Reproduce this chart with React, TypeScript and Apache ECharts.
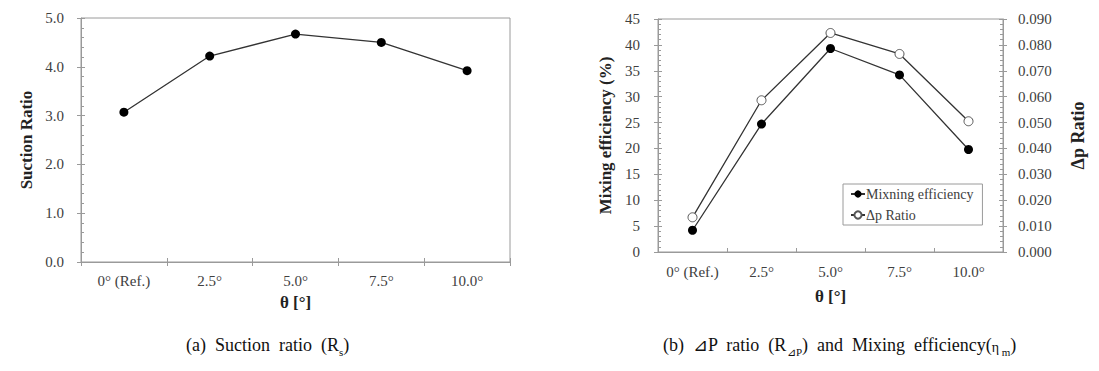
import React, { useEffect, useRef } from "react";
import * as echarts from "echarts";

const categories = ["0° (Ref.)", "2.5°", "5.0°", "7.5°", "10.0°"];
const suctionRatio = [3.07, 4.22, 4.67, 4.5, 3.92];
const mixingEfficiency = [4.2, 24.7, 39.3, 34.2, 19.8];
const dpRatio = [0.0134, 0.0586, 0.0846, 0.0765, 0.0505];
const seriesNames = ["Mixning efficiency", "Δp Ratio"];

const SERIF = "'Liberation Serif', 'Times New Roman', serif";
const AXIS_GRAY = "#9a9a9a";
const LABEL_COLOR = "#404040";

export default function App() {
  const ref = useRef<HTMLDivElement>(null);

  useEffect(() => {
    document.body.style.margin = "0";
    if (!ref.current) return;
    const chart = echarts.init(ref.current, null, { renderer: "svg" });

    const tickStyle = { color: AXIS_GRAY, width: 1 };
    const baseLabel = { color: LABEL_COLOR, fontFamily: SERIF, fontSize: 15 };
    const nameStyle = { color: "#222", fontFamily: SERIF, fontWeight: "bold" as const };

    const catAxis = (gridIndex: number, opts: any) => ({
      type: "category",
      gridIndex,
      position: "bottom",
      data: categories,
      boundaryGap: true,
      axisLine: { show: true, lineStyle: { color: AXIS_GRAY } },
      splitLine: { show: false },
      ...opts,
    });

    const option: any = {
      animation: false,
      grid: [
        { left: 81, top: 18, width: 429, height: 244, show: true, borderColor: AXIS_GRAY, borderWidth: 1 },
        { left: 658, top: 19, width: 345, height: 233, show: true, borderColor: AXIS_GRAY, borderWidth: 1 },
      ],
      xAxis: [
        catAxis(0, {
          axisTick: { show: true, inside: false, length: 4, lineStyle: tickStyle },
          axisLabel: { ...baseLabel, margin: 11 },
          name: "θ [°]",
          nameLocation: "middle",
          nameGap: 32,
          nameTextStyle: { ...nameStyle, fontSize: 17 },
        }),
        catAxis(0, {
          axisLine: { show: false },
          axisTick: { show: true, inside: true, length: 4, lineStyle: tickStyle },
          axisLabel: { show: false },
        }),
        catAxis(1, {
          axisTick: { show: true, inside: true, length: 4, lineStyle: tickStyle },
          axisLabel: { ...baseLabel, margin: 12 },
          name: "θ [°]",
          nameLocation: "middle",
          nameGap: 36,
          nameTextStyle: { ...nameStyle, fontSize: 17 },
        }),
      ],
      yAxis: [
        {
          type: "value",
          gridIndex: 0,
          position: "left",
          min: 0,
          max: 5,
          interval: 1,
          axisLine: { show: true, lineStyle: { color: AXIS_GRAY } },
          axisTick: { show: true, inside: true, length: 4, lineStyle: tickStyle },
          minorTick: { show: true, splitNumber: 5, length: 3, lineStyle: tickStyle },
          splitLine: { show: false },
          axisLabel: { ...baseLabel, margin: 17, formatter: (v: number) => v.toFixed(1) },
          name: "Suction Ratio",
          nameLocation: "middle",
          nameRotate: 90,
          nameGap: 46,
          nameTextStyle: { ...nameStyle, fontSize: 17 },
        },
        {
          type: "value",
          gridIndex: 0,
          position: "left",
          min: 0,
          max: 5,
          interval: 1,
          axisLine: { show: false },
          axisTick: { show: true, inside: false, length: 4, lineStyle: tickStyle },
          splitLine: { show: false },
          axisLabel: { show: false },
        },
        {
          type: "value",
          gridIndex: 1,
          position: "left",
          min: 0,
          max: 45,
          interval: 5,
          axisLine: { show: true, lineStyle: { color: AXIS_GRAY } },
          axisTick: { show: true, inside: true, length: 4, lineStyle: tickStyle },
          minorTick: { show: true, splitNumber: 5, length: 3, lineStyle: tickStyle },
          splitLine: { show: false },
          axisLabel: { ...baseLabel, margin: 18 },
          name: "Mixing efficiency (%)",
          nameLocation: "middle",
          nameRotate: 90,
          nameGap: 44,
          nameTextStyle: { ...nameStyle, fontSize: 17 },
        },
        {
          type: "value",
          gridIndex: 1,
          position: "left",
          min: 0,
          max: 45,
          interval: 5,
          axisLine: { show: false },
          axisTick: { show: true, inside: false, length: 4, lineStyle: tickStyle },
          splitLine: { show: false },
          axisLabel: { show: false },
        },
        {
          type: "value",
          gridIndex: 1,
          position: "right",
          min: 0,
          max: 0.09,
          interval: 0.01,
          axisLine: { show: true, lineStyle: { color: AXIS_GRAY } },
          axisTick: { show: true, inside: true, length: 4, lineStyle: tickStyle },
          minorTick: { show: true, splitNumber: 5, length: 3, lineStyle: tickStyle },
          splitLine: { show: false },
          axisLabel: { ...baseLabel, margin: 15, formatter: (v: number) => v.toFixed(3) },
          name: "Δp Ratio",
          nameLocation: "middle",
          nameRotate: 90,
          nameGap: 66,
          nameTextStyle: { ...nameStyle, fontSize: 18 },
        },
        {
          type: "value",
          gridIndex: 1,
          position: "right",
          min: 0,
          max: 0.09,
          interval: 0.01,
          axisLine: { show: false },
          axisTick: { show: true, inside: false, length: 4, lineStyle: tickStyle },
          splitLine: { show: false },
          axisLabel: { show: false },
        },
      ],
      legend: {
        left: 843,
        top: 184,
        orient: "vertical",
        data: seriesNames,
        itemWidth: 14,
        itemHeight: 9,
        itemGap: 7,
        padding: [3, 9, 3, 7],
        borderColor: AXIS_GRAY,
        borderWidth: 1,
        backgroundColor: "#fff",
        textStyle: { color: LABEL_COLOR, fontFamily: SERIF, fontSize: 14, padding: [0, 0, 0, -4] },
      },
      series: [
        {
          type: "line",
          name: "Suction Ratio",
          xAxisIndex: 0,
          yAxisIndex: 0,
          data: suctionRatio,
          symbol: "circle",
          symbolSize: 9,
          lineStyle: { color: "#333", width: 1.3 },
          itemStyle: { color: "#000" },
        },
        {
          type: "line",
          name: seriesNames[0],
          xAxisIndex: 2,
          yAxisIndex: 2,
          data: mixingEfficiency,
          symbol: "circle",
          symbolSize: 9,
          lineStyle: { color: "#333", width: 1.3 },
          itemStyle: { color: "#000" },
          z: 3,
        },
        {
          type: "line",
          name: seriesNames[1],
          xAxisIndex: 2,
          yAxisIndex: 4,
          data: dpRatio,
          symbol: "circle",
          symbolSize: 9,
          lineStyle: { color: "#333", width: 1.3 },
          itemStyle: { color: "#fff", borderColor: "#555", borderWidth: 1 },
          z: 3,
        },
      ],
      graphic: [
        {
          type: "text",
          left: 186,
          top: 336,
          style: {
            text: "{n|(a)  Suction  ratio  (R}{s|s}{n|)}",
            fill: "#111",
            rich: {
              n: { fontFamily: SERIF, fontSize: 18, fill: "#111", lineHeight: 22, verticalAlign: "bottom" },
              s: { fontFamily: SERIF, fontSize: 11, fill: "#111", lineHeight: 22, verticalAlign: "bottom", padding: [0, 0, -3, 0] },
            },
          },
        },
        {
          type: "text",
          left: 663,
          top: 336,
          style: {
            text: "{n|(b)  ⊿P  ratio  (R}{s|⊿P}{n|)  and  Mixing  efficiency(}{e|η}{s| m}{n|)}",
            fill: "#111",
            rich: {
              n: { fontFamily: SERIF, fontSize: 18, fill: "#111", lineHeight: 22, verticalAlign: "bottom" },
              s: { fontFamily: SERIF, fontSize: 11, fill: "#111", lineHeight: 22, verticalAlign: "bottom", padding: [0, 0, -3, 0] },
              e: { fontFamily: SERIF, fontSize: 14, fill: "#111", lineHeight: 22, verticalAlign: "bottom" },
            },
          },
        },
      ],
    };

    chart.setOption(option);
    return () => chart.dispose();
  }, []);

  return <div ref={ref} style={{ width: 1099, height: 371 }} />;
}
